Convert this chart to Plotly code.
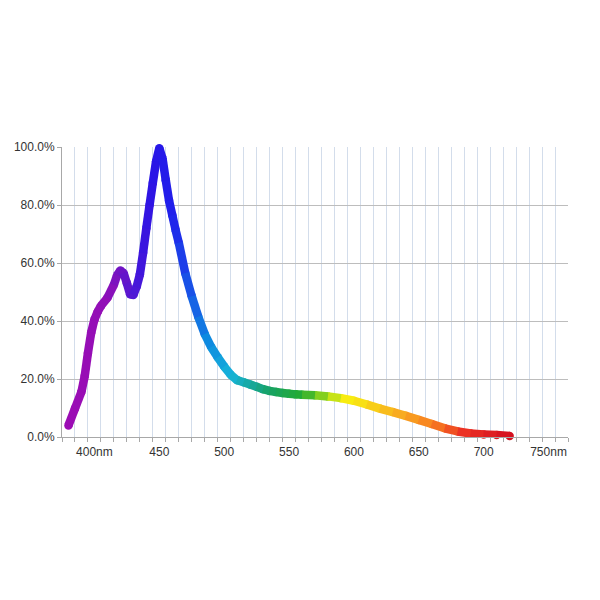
import plotly.graph_objects as go
import numpy as np

# Spectrum readings (wavelength in nm, relative intensity in %)
wavelengths = [380, 385, 390, 392.5, 395, 397.5, 400, 402.5, 405, 410, 415, 417.5, 420, 422.5,
               425, 427.5, 430, 432.5, 435, 437.5, 440, 442.5, 445, 447.5, 450, 452.5, 455,
               457.5, 460, 462.5, 465, 470, 475, 480, 485, 490, 495, 500, 505, 510, 515, 520,
               525, 530, 535, 540, 545, 550, 555, 560, 570, 580, 590, 600, 610, 620, 630,
               640, 650, 660, 670, 680, 690, 700, 710, 720]
intensity = [4.0, 9.8, 15.6, 21.0, 29.0, 36.0, 40.5, 43.2, 45.2, 48.0, 52.5, 55.8, 57.4, 56.5,
             53.0, 49.2, 49.0, 51.8, 56.0, 63.5, 72.0, 80.0, 87.6, 95.0, 99.6, 96.0, 88.5,
             81.5, 76.5, 71.5, 67.0, 56.5, 48.5, 41.5, 35.5, 31.0, 27.5, 24.3, 21.5, 19.6, 18.9, 18.1,
             17.3, 16.5, 15.9, 15.5, 15.2, 14.9, 14.7, 14.6, 14.4, 14.0, 13.4, 12.5, 11.2, 9.8, 8.6,
             7.3, 5.9, 4.5, 3.0, 1.9, 1.2, 0.9, 0.7, 0.35]

tick_vals = [400, 450, 500, 550, 600, 650, 700, 750]
tick_text = ["400nm", "450", "500", "550", "600", "650", "700", "750nm"]
y_ticks = [0, 20, 40, 60, 80, 100]
y_text = ["0.0%", "20.0%", "40.0%", "60.0%", "80.0%", "100.0%"]

# wavelength -> colour stops for the rainbow line
stop_nm = [380, 410, 420, 430, 445, 460, 472, 488, 505, 520, 535, 560, 578, 592, 605, 630, 660, 685, 720]
stop_rgb = [(156, 12, 180), (146, 16, 184), (112, 20, 196), (80, 24, 214), (43, 20, 230),
            (32, 32, 236), (26, 80, 232), (14, 140, 224), (24, 180, 218), (22, 168, 160),
            (24, 162, 100), (36, 172, 50), (150, 214, 28), (248, 240, 16), (248, 224, 20),
            (248, 180, 32), (248, 128, 32), (236, 50, 36), (212, 16, 32)]
stop_rgb = np.array(stop_rgb, dtype=float)


def nm_color(w):
    r, g, b = (np.interp(w, stop_nm, stop_rgb[:, k]) for k in range(3))
    return f"rgb({int(r)},{int(g)},{int(b)})"


LW = 8.5
fig = go.Figure()

# round joints between the segments
fig.add_trace(go.Scatter(
    x=wavelengths, y=intensity, mode="markers",
    marker=dict(size=LW, color=[nm_color(w) for w in wavelengths], line=dict(width=0)),
    cliponaxis=False, hoverinfo="skip", showlegend=False,
))

# colour each piece of the curve by its wavelength
for i in range(len(wavelengths) - 1):
    mid = (wavelengths[i] + wavelengths[i + 1]) / 2
    fig.add_trace(go.Scatter(
        x=wavelengths[i:i + 2], y=intensity[i:i + 2], mode="lines",
        line=dict(color=nm_color(mid), width=LW),
        cliponaxis=False, hoverinfo="skip", showlegend=False,
    ))

# page body adds an 8px offset, margins account for it
fig.update_layout(
    width=600, height=600,
    margin=dict(l=54, r=40, t=139, b=171),
    paper_bgcolor="white", plot_bgcolor="white",
    font=dict(family="Liberation Sans, Arial, sans-serif", size=12, color="#333333"),
)

fig.update_xaxes(
    range=[375, 765], automargin=False,
    tickvals=tick_vals, ticktext=tick_text,
    ticks="outside", ticklen=4, tickcolor="rgba(0,0,0,0)",
    showgrid=False, zeroline=False,
    showline=True, linecolor="#A8A8A8", linewidth=1,
    minor=dict(tick0=375, dtick=10, showgrid=True, gridcolor="#D3DDEB", gridwidth=1,
               ticks="outside", ticklen=4, tickcolor="#A8A8A8"),
)
fig.update_yaxes(
    range=[0, 100], automargin=False,
    tickvals=y_ticks, ticktext=y_text,
    ticks="outside", ticklen=4, tickcolor="#A8A8A8",
    showgrid=True, gridcolor="#BDBDBD", gridwidth=1, zeroline=False,
    showline=True, linecolor="#A8A8A8", linewidth=1,
)

fig.write_html("out.html")
